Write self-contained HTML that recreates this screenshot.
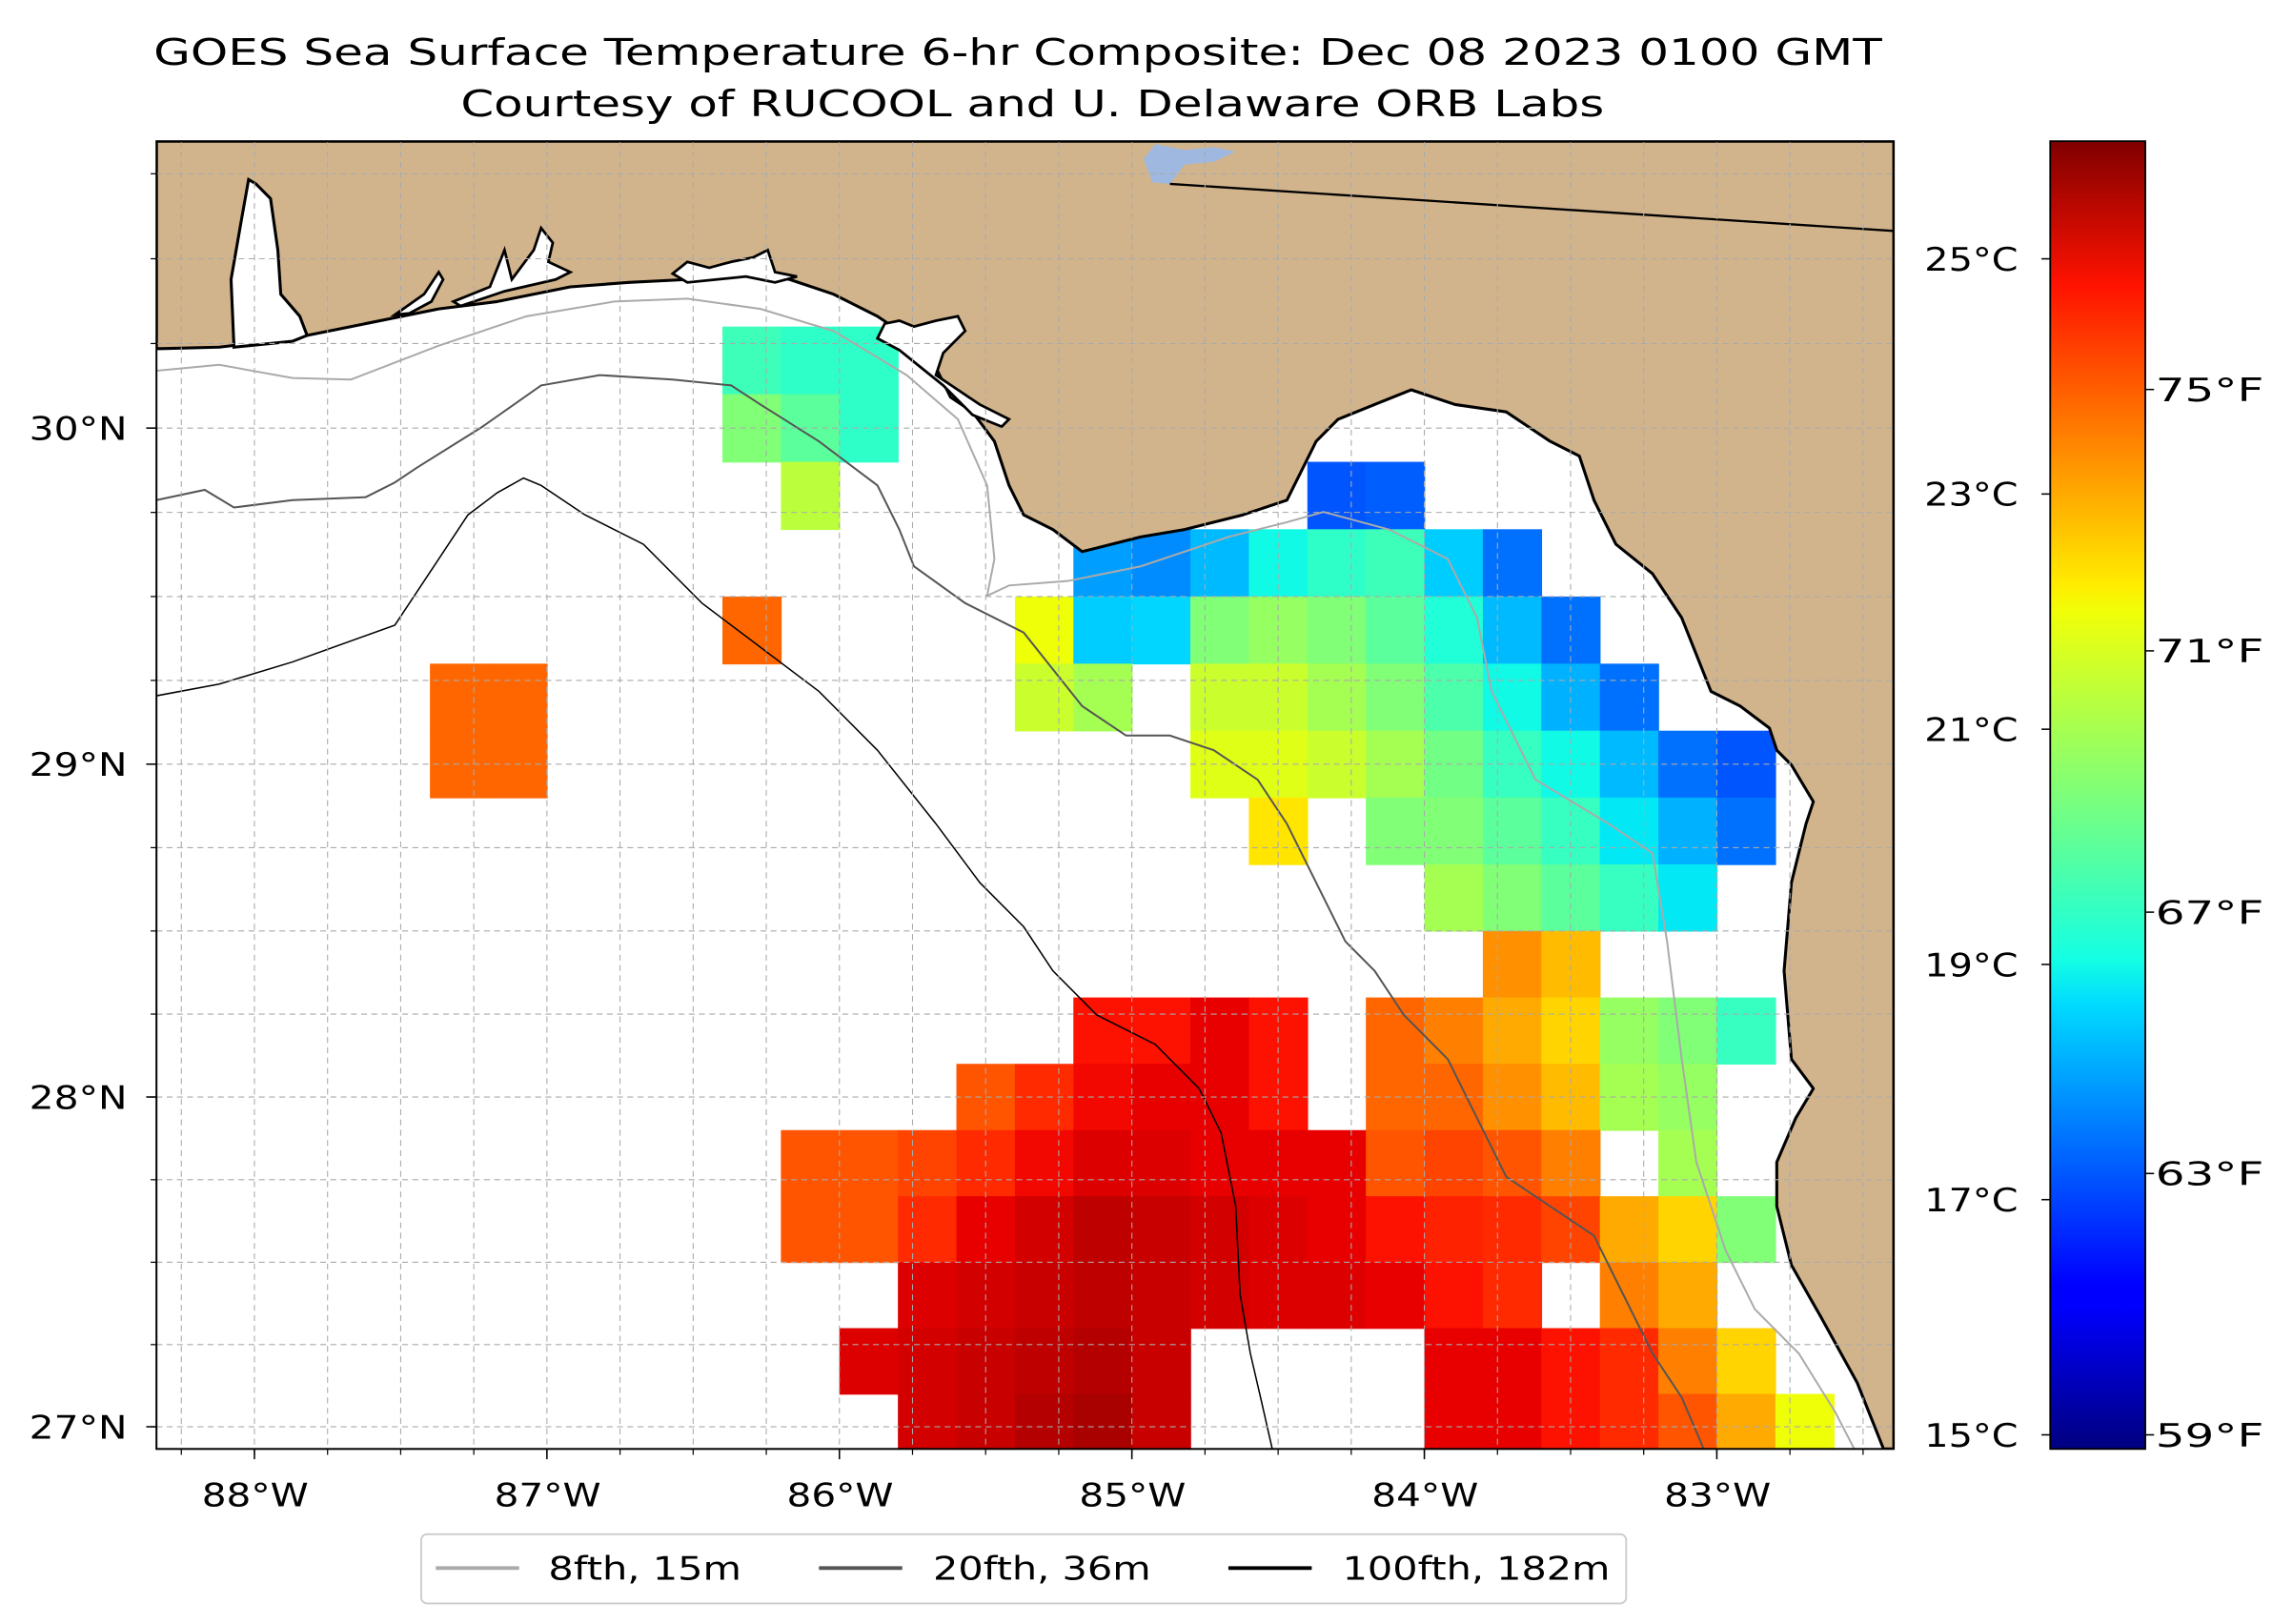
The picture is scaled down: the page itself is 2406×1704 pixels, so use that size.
<!DOCTYPE html>
<html><head><meta charset="utf-8"><title>GOES SST</title>
<style>html,body{margin:0;padding:0;background:#fff}svg{display:block}text{font-family:"DejaVu Sans","Liberation Sans",sans-serif;fill:#000}</style>
</head><body>
<svg id="chart" xmlns="http://www.w3.org/2000/svg" width="2406" height="1704" viewBox="0 0 1568 1104" preserveAspectRatio="none">
<defs>
<clipPath id="axclip"><rect x="107" y="96" width="1188" height="889"/></clipPath>
<linearGradient id="jet" x1="0" y1="1" x2="0" y2="0">
<stop offset="0" stop-color="#000080"/><stop offset="0.11" stop-color="#0000ff"/><stop offset="0.125" stop-color="#0000ff"/>
<stop offset="0.34" stop-color="#00dbff"/><stop offset="0.375" stop-color="#14ffe3"/><stop offset="0.5" stop-color="#7dff7a"/>
<stop offset="0.64" stop-color="#f0ff08"/><stop offset="0.66" stop-color="#ffed00"/><stop offset="0.89" stop-color="#ff1200"/>
<stop offset="1" stop-color="#800000"/></linearGradient>
</defs>
<text x="105" y="44" font-size="25" textLength="1182" lengthAdjust="spacingAndGlyphs">GOES Sea Surface Temperature 6-hr Composite: Dec 08 2023 0100 GMT</text>
<text x="315" y="79" font-size="25" textLength="782" lengthAdjust="spacingAndGlyphs">Courtesy of RUCOOL and U. Delaware ORB Labs</text>
<rect x="107" y="96" width="1188" height="889" fill="#fff"/>
<g id="sst" clip-path="url(#axclip)"></g>
<g id="geo" clip-path="url(#axclip)">
<polygon fill="#d2b48c" stroke="#000" stroke-width="2" stroke-linejoin="round" points="107,96 1295,96 1295,985 1288,985 1270,940 1245,895 1225,860 1215,820 1215,790 1228,760 1240,740 1225,720 1220,660 1225,600 1235,560 1240,545 1225,520 1215,510 1210,495 1190,480 1170,470 1160,445 1150,420 1130,390 1105,370 1090,340 1080,310 1060,300 1045,290 1030,280 995,275 965,265 940,275 915,285 900,300 890,320 880,340 850,350 810,360 780,365 740,375 720,360 700,350 690,330 680,300 665,280 650,270 640,250 625,240 615,225 600,215 570,200 540,190 510,185 470,190 430,192 390,195 340,205 300,210 250,220 200,230 150,236 110,237 107,237"/>
<polygon fill="#fff" stroke="#000" stroke-width="2" points="160,236 158,190 165,150 170,122 175,125 185,135 190,170 192,200 205,215 210,228 200,232"/>
<polygon fill="#fff" stroke="#000" stroke-width="1.8" points="270,214 290,200 300,185 303,190 295,205 280,213"/>
<polygon fill="#fff" stroke="#000" stroke-width="1.8" points="310,205 335,195 345,170 350,190 365,170 370,155 378,165 375,178 390,185 380,190 345,198 315,208"/>
<polygon fill="#fff" stroke="#000" stroke-width="1.8" points="460,186 470,178 485,182 500,178 515,175 525,170 530,185 545,188 530,192 510,188 490,190 470,192"/>
<polygon fill="#fff" stroke="#000" stroke-width="1.8" points="600,230 605,220 615,218 625,222 640,218 655,215 660,225 645,240 640,255 655,265 670,275 690,285 685,290 665,282 645,262 630,250 615,238"/>
<polygon fill="#9eb8e0" points="782,108 790,98 810,102 830,100 845,103 830,110 810,112 800,125 788,124"/>
<polyline fill="none" stroke="#000" stroke-width="1.5" points="800,125 1295,157"/>
<polyline fill="none" stroke="#aaaaaa" stroke-width="1.3" points="107,252 150,248 200,257 240,258 300,235 360,215 420,205 470,203 520,210 570,225 620,255 655,285 675,330 680,380 675,405 690,398 730,395 780,385 840,365 880,355 905,348 950,360 990,380 1010,420 1020,470 1050,530 1100,560 1130,580 1140,640 1150,720 1160,790 1180,850 1200,890 1230,920 1255,960 1268,985"/>
<polyline fill="none" stroke="#555555" stroke-width="1.3" points="107,340 140,333 160,345 200,340 250,338 270,328 285,318 330,290 370,262 410,255 460,258 500,262 520,275 560,300 600,330 615,360 625,385 660,410 700,430 740,480 770,500 800,500 830,510 860,530 880,560 900,600 920,640 940,660 960,690 990,720 1010,760 1030,800 1060,820 1090,840 1110,880 1130,920 1150,950 1165,985"/>
<polyline fill="none" stroke="#000" stroke-width="1" points="107,473 150,465 200,450 270,425 300,380 320,350 340,335 358,325 370,330 400,350 440,370 480,410 520,440 560,470 600,510 640,560 670,600 700,630 720,660 750,690 790,710 820,740 835,770 845,820 848,880 855,920 862,950 870,985"/>
</g>
<g id="grid" clip-path="url(#axclip)"></g>
<rect x="107" y="96" width="1188" height="889" fill="none" stroke="#000" stroke-width="1.3"/>
<g id="axes"></g>
<rect x="1402" y="96" width="65" height="889" fill="url(#jet)" stroke="#000" stroke-width="1.2"/>
<g id="cbaxes"></g>
<g>
<rect x="288" y="1043" width="824" height="47" rx="4" fill="#fff" stroke="#cccccc" stroke-width="1.2"/>
<line x1="298" y1="1066" x2="355" y2="1066" stroke="#aaaaaa" stroke-width="2.5"/>
<text x="375" y="1074" font-size="22" textLength="132" lengthAdjust="spacingAndGlyphs">8fth, 15m</text>
<line x1="560" y1="1066" x2="617" y2="1066" stroke="#555555" stroke-width="2.5"/>
<text x="638" y="1074" font-size="22" textLength="149" lengthAdjust="spacingAndGlyphs">20fth, 36m</text>
<line x1="840" y1="1066" x2="897" y2="1066" stroke="#000" stroke-width="2.5"/>
<text x="918" y="1074" font-size="22" textLength="183" lengthAdjust="spacingAndGlyphs">100fth, 182m</text>
</g>
</svg>
<script>
var NS = "http://www.w3.org/2000/svg";
var lonStart = -88.4;
var latStart = 30.9;
var cellDeg = 0.2;
var sstRows = [
[0,0,0,0,0,0,0,0,0,0,0,0,0,0,0,0,0,0,0,0,0,0,0,0,0,0,0,0,0,0],
[0,0,0,0,0,0,0,0,0,0,0,0,0,0,0,0,0,0,0,0,0,0,0,0,0,0,0,0,0,0],
[0,0,0,0,0,0,0,0,0,0,0,0,0,0,0,0,0,0,0,0,0,0,0,0,0,0,0,0,0,0],
[0,0,0,0,0,0,0,0,0,0,19.6,19.4,19.4,0,0,0,0,0,0,0,0,0,0,0,0,0,0,0,0,0],
[0,0,0,0,0,0,0,0,0,0,20.5,20.0,19.4,0,0,0,0,0,0,0,0,0,0,0,0,0,0,0,0,0],
[0,0,0,0,0,0,0,0,0,0,0,21.3,0,0,0,0,0,0,0,0,17.2,17.3,0,0,0,0,0,0,0,0],
[0,0,0,0,0,0,0,0,0,0,0,0,0,0,0,0,18,17.8,18.3,19,19.4,19.6,18.5,17.5,0,0,0,0,0,0],
[0,0,0,0,0,0,0,0,0,0,23.8,0,0,0,0,22,18.5,18.6,20.5,20.8,20.5,20,19.2,18.3,17.5,0,0,0,0,0],
[0,0,0,0,0,23.8,23.8,0,0,0,0,0,0,0,0,21.5,21,0,21.5,21.5,21,20.5,19.8,19,18.2,17.5,0,0,0,0],
[0,0,0,0,0,23.8,23.8,0,0,0,0,0,0,0,0,0,0,0,21.8,21.8,21.5,21,20.3,19.5,19,18.3,17.5,17.2,0,0],
[0,0,0,0,0,0,0,0,0,0,0,0,0,0,0,0,0,0,0,22.3,0,20.5,20.5,20,19.5,18.8,18.2,17.5,0,0],
[0,0,0,0,0,0,0,0,0,0,0,0,0,0,0,0,0,0,0,0,0,0,21,20.5,20,19.5,18.8,0,0,0],
[0,0,0,0,0,0,0,0,0,0,0,0,0,0,0,0,0,0,0,0,0,0,0,23.3,22.8,0,0,0,0,0],
[0,0,0,0,0,0,0,0,0,0,0,0,0,0,0,0,24.8,24.8,25,24.8,0,23.8,23.5,23,22.5,20.8,20.5,19.5,0,0],
[0,0,0,0,0,0,0,0,0,0,0,0,0,0,24,24.5,24.9,25,25,24.8,0,23.8,23.8,23.3,22.8,21,20.8,0,0,0],
[0,0,0,0,0,0,0,0,0,0,0,24,24,24.2,24.5,24.9,25.1,25.1,25,25,25,24,24.2,24,23.5,0,21,0,0,0],
[0,0,0,0,0,0,0,0,0,0,0,24,24,24.5,25,25.2,25.4,25.3,25.2,25.1,25,24.8,24.6,24.5,24.2,23,22.5,20.5,0,0],
[0,0,0,0,0,0,0,0,0,0,0,0,0,25.1,25.2,25.3,25.4,25.3,25.2,25.1,25.1,25,24.8,24.5,0,23.5,23,0,0,0],
[0,0,0,0,0,0,0,0,0,0,0,0,25.1,25.2,25.3,25.4,25.5,25.3,0,0,0,0,25,25,24.8,24.5,23.5,22.5,0,0],
[0,0,0,0,0,0,0,0,0,0,0,0,0,25.2,25.3,25.5,25.6,25.3,0,0,0,0,25,25,24.8,24.5,24,23,22,0]
];
var lonTicks = [-88,-87,-86,-85,-84,-83];
var lonTickLabels = ["88°W","87°W","86°W","85°W","84°W","83°W"];
var latTicks = [30,29,28,27];
var latTickLabels = ["30°N","29°N","28°N","27°N"];
var cTicks = [25,23,21,19,17,15];
var cTickLabels = ["25°C","23°C","21°C","19°C","17°C","15°C"];
var fTicks = [75,71,67,63,59];
var fTickLabels = ["75°F","71°F","67°F","63°F","59°F"];
var vmin = 14.88, vmax = 26.0;

function merc(lat){ return Math.log(Math.tan(Math.PI/4 + lat*Math.PI/360)); }
function xLon(lon){ return 107 + (lon + 88.335) * 200; }
function yLat(lat){ return 291 + (merc(30) - merc(lat)) * 11393; }
function yCb(c){ return 985 - (c - vmin) / (vmax - vmin) * 889; }
function interp(pts, t){
  for (var i=1;i<pts.length;i++){ if (t<=pts[i][0]){ var a=pts[i-1],b=pts[i]; return a[1]+(b[1]-a[1])*(t-a[0])/(b[0]-a[0]); } }
  return pts[pts.length-1][1];
}
function jet(t){
  t=Math.max(0,Math.min(1,t));
  var r=interp([[0,0],[0.35,0],[0.66,1],[0.89,1],[1,0.5]],t);
  var g=interp([[0,0],[0.125,0],[0.375,1],[0.64,1],[0.91,0],[1,0]],t);
  var b=interp([[0,0.5],[0.11,1],[0.34,1],[0.65,0],[1,0]],t);
  return "rgb("+Math.round(r*255)+","+Math.round(g*255)+","+Math.round(b*255)+")";
}
function mk(tag, attrs, parent){ var e=document.createElementNS(NS,tag); for (var k in attrs) e.setAttribute(k, attrs[k]); parent.appendChild(e); return e; }

var sst=document.getElementById("sst");
for (var r=0;r<sstRows.length;r++){
  for (var c=0;c<sstRows[r].length;c++){
    var v=sstRows[r][c]; if (!v) continue;
    var x0=xLon(lonStart+c*cellDeg), x1=xLon(lonStart+(c+1)*cellDeg);
    var y0=yLat(latStart-r*cellDeg), y1=yLat(latStart-(r+1)*cellDeg);
    var cell=mk("rect",{x:x0,y:y0,width:x1-x0+0.5,height:y1-y0+0.5,fill:jet((v-vmin)/(vmax-vmin))},sst);
    
    
  }
}
var grid=document.getElementById("grid");
var axes=document.getElementById("axes");
for (var lon=-88.25; lon<=-82.4; lon+=0.25){
  var gx=xLon(lon);
  var gl=mk("line",{x1:gx,y1:96,x2:gx,y2:985,stroke:"#aaaaaa","stroke-width":0.7,"stroke-dasharray":"4,3"},grid);
  
  
  var mt=mk("line",{x1:gx,y1:985,x2:gx,y2:989,stroke:"#000","stroke-width":0.8},axes);
  
  
}
for (var lat=26.75; lat<=30.9; lat+=0.25){
  var gy=yLat(lat); if (gy<96||gy>985) continue;
  var hl=mk("line",{x1:107,y1:gy,x2:1295,y2:gy,stroke:"#aaaaaa","stroke-width":0.7,"stroke-dasharray":"4,3"},grid);
  
  
  var lt=mk("line",{x1:103,y1:gy,x2:107,y2:gy,stroke:"#000","stroke-width":0.8},axes);
  
  
}
for (var i=0;i<lonTicks.length;i++){
  var tx=xLon(lonTicks[i]);
  var t=mk("line",{x1:tx,y1:985,x2:tx,y2:992,stroke:"#000","stroke-width":1},axes);
  
  
  var tl=mk("text",{x:tx-36,y:1024,"font-size":22,textLength:73,lengthAdjust:"spacingAndGlyphs"},axes);
  tl.textContent=lonTickLabels[i];
  
  
}
for (var i=0;i<latTicks.length;i++){
  var ty=yLat(latTicks[i]);
  var t2=mk("line",{x1:100,y1:ty,x2:107,y2:ty,stroke:"#000","stroke-width":1},axes);
  
  
  var tl2=mk("text",{x:20,y:ty+8,"font-size":22,textLength:67,lengthAdjust:"spacingAndGlyphs"},axes);
  tl2.textContent=latTickLabels[i];
  
  
}
var cb=document.getElementById("cbaxes");
for (var i=0;i<cTicks.length;i++){
  var cy=yCb(cTicks[i]);
  var ct=mk("line",{x1:1396,y1:cy,x2:1402,y2:cy,stroke:"#000","stroke-width":1},cb);
  
  
  var cl=mk("text",{x:1316,y:cy+8,"font-size":22,textLength:64,lengthAdjust:"spacingAndGlyphs"},cb);
  cl.textContent=cTickLabels[i];
  
  
}
for (var i=0;i<fTicks.length;i++){
  var fy=yCb((fTicks[i]-32)*5/9);
  var ft=mk("line",{x1:1467,y1:fy,x2:1473,y2:fy,stroke:"#000","stroke-width":1},cb);
  
  
  var fl=mk("text",{x:1474,y:fy+8,"font-size":22,textLength:74,lengthAdjust:"spacingAndGlyphs"},cb);
  fl.textContent=fTickLabels[i];
  
  
}
</script>
</body></html>
